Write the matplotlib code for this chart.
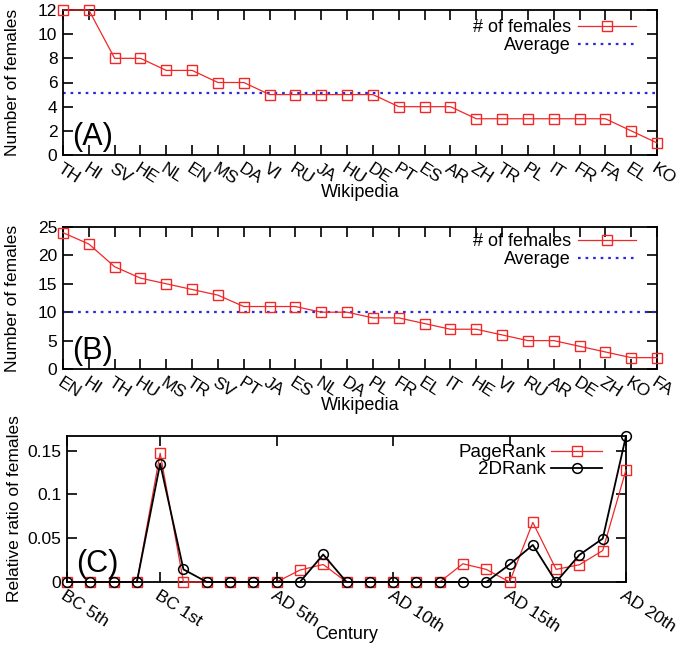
import numpy as np
import matplotlib
matplotlib.use("Agg")
import matplotlib.pyplot as plt

plt.rcParams['font.family'] = ['Liberation Sans', 'DejaVu Sans']
plt.rcParams['font.size'] = 12.5

# ---- data ----
langs_a = ['TH', 'HI', 'SV', 'HE', 'NL', 'EN', 'MS', 'DA', 'VI', 'RU', 'JA', 'HU',
           'DE', 'PT', 'ES', 'AR', 'ZH', 'TR', 'PL', 'IT', 'FR', 'FA', 'EL', 'KO']
females_a = [12, 12, 8, 8, 7, 7, 6, 6, 5, 5, 5, 5, 5, 4, 4, 4, 3, 3, 3, 3, 3, 3, 2, 1]

langs_b = ['EN', 'HI', 'TH', 'HU', 'MS', 'TR', 'SV', 'PT', 'JA', 'ES', 'NL', 'DA',
           'PL', 'FR', 'EL', 'IT', 'HE', 'VI', 'RU', 'AR', 'DE', 'ZH', 'KO', 'FA']
females_b = [24, 22, 18, 16, 15, 14, 13, 11, 11, 11, 10, 10, 9, 9, 8, 7, 7, 6, 5, 5, 4, 3, 2, 2]

century_ticks = ['BC 5th', 'BC 1st', 'AD 5th', 'AD 10th', 'AD 15th', 'AD 20th']
century_tick_idx = [0, 4, 9, 14, 19, 24]
pagerank = [0, 0, 0, 0, 0.147, 0, 0, 0, 0, 0, 0.0136, 0.020, 0, 0, 0, 0, 0,
            0.0208, 0.0144, 0, 0.068, 0.0144, 0.0197, 0.0359, 0.128]
rank2d = [0, 0, 0, 0, 0.1353, 0.0144, 0, 0, 0, 0, 0, 0.0314, 0, 0, 0, 0, 0,
          0, 0, 0.020, 0.0423, 0, 0.031, 0.0495, 0.1667]

RED = '#f02828'
BLUE = '#2a2ad8'
ROT = -33

W, H = 683, 653
fig = plt.figure(figsize=(W / 100, H / 100), dpi=100)


def px_axes(l, t, r, b):
    return fig.add_axes([l / W, 1 - b / H, (r - l) / W, (b - t) / H])


def style(ax):
    for s in ax.spines.values():
        s.set_linewidth(1.3)
    ax.tick_params(direction='in', length=7, width=1.2, top=True, right=True,
                   labelsize=12.5, pad=4)


def panel(ax, langs, vals, ymax, yticks, label, leg_anchor):
    x = np.arange(len(langs))
    ax.plot(x, vals, '-', color=RED, lw=0.9, marker='s', ms=7.5, mfc='none',
            mec=RED, mew=1.0, clip_on=False, label='# of females', zorder=3)
    ax.axhline(np.mean(vals), color=BLUE, lw=1.6, ls=(0, (1.2, 2.2)),
               label='Average', zorder=2)
    ax.set_xlim(0, len(langs) - 1)
    ax.set_ylim(0, ymax)
    ax.set_yticks(yticks)
    ax.set_xticks(x)
    ax.set_xticklabels(langs, rotation=ROT, ha='left', va='top',
                       rotation_mode='anchor', fontsize=13)
    style(ax)
    ax.set_xlabel('Wikipedia', fontsize=13)
    ax.xaxis.set_label_coords(0.5, -0.2)
    ax.set_ylabel('Number of females')
    ax.yaxis.set_label_coords(-0.072, 0.5)
    ax.text(0.016, 0.02, label, transform=ax.transAxes, fontsize=22,
            ha='left', va='bottom')
    ax.legend(loc='upper right', bbox_to_anchor=leg_anchor, frameon=False,
              markerfirst=False, handlelength=3.2, handletextpad=0.4,
              borderaxespad=0, borderpad=0, labelspacing=0.05, fontsize=13)


axA = px_axes(63, 10, 657, 155)
panel(axA, langs_a, females_a, 12, [0, 2, 4, 6, 8, 10, 12], '(A)',
      (0.965, 0.935))

axB = px_axes(63, 227, 657, 369)
panel(axB, langs_b, females_b, 25, [0, 5, 10, 15, 20, 25], '(B)',
      (0.965, 0.955))

axC = px_axes(67, 436, 626, 582)
xc = np.arange(len(pagerank))
axC.plot(xc, pagerank, '-', color=RED, lw=0.9, marker='s', ms=7.5, mfc='none',
         mec=RED, mew=1.0, clip_on=False, label='PageRank', zorder=3)
axC.plot(xc, rank2d, '-', color='black', lw=1.3, marker='o', ms=7, mfc='none',
         mec='black', mew=1.1, clip_on=False, label='2DRank', zorder=4)
axC.set_xlim(0, len(pagerank) - 1)
axC.set_ylim(0, max(rank2d))
axC.set_yticks([0, 0.05, 0.1, 0.15])
axC.set_yticklabels(['0', '0.05', '0.1', '0.15'])
axC.set_xticks(century_tick_idx)
axC.set_xticklabels(century_ticks, rotation=ROT, ha='left', va='top',
                    rotation_mode='anchor', fontsize=13)
style(axC)
axC.set_xlabel('Century', fontsize=13)
axC.xaxis.set_label_coords(0.5, -0.3)
axC.set_ylabel('Relative ratio of females')
axC.yaxis.set_label_coords(-0.08, 0.5)
axC.text(0.016, 0.02, '(C)', transform=axC.transAxes, fontsize=22,
         ha='left', va='bottom')
axC.legend(loc='upper right', bbox_to_anchor=(0.957, 0.945), frameon=False,
           markerfirst=False, handlelength=2.7, handletextpad=0.3,
           borderaxespad=0, borderpad=0, labelspacing=0.0, fontsize=13.5)

fig.savefig('out.png', dpi=100)
